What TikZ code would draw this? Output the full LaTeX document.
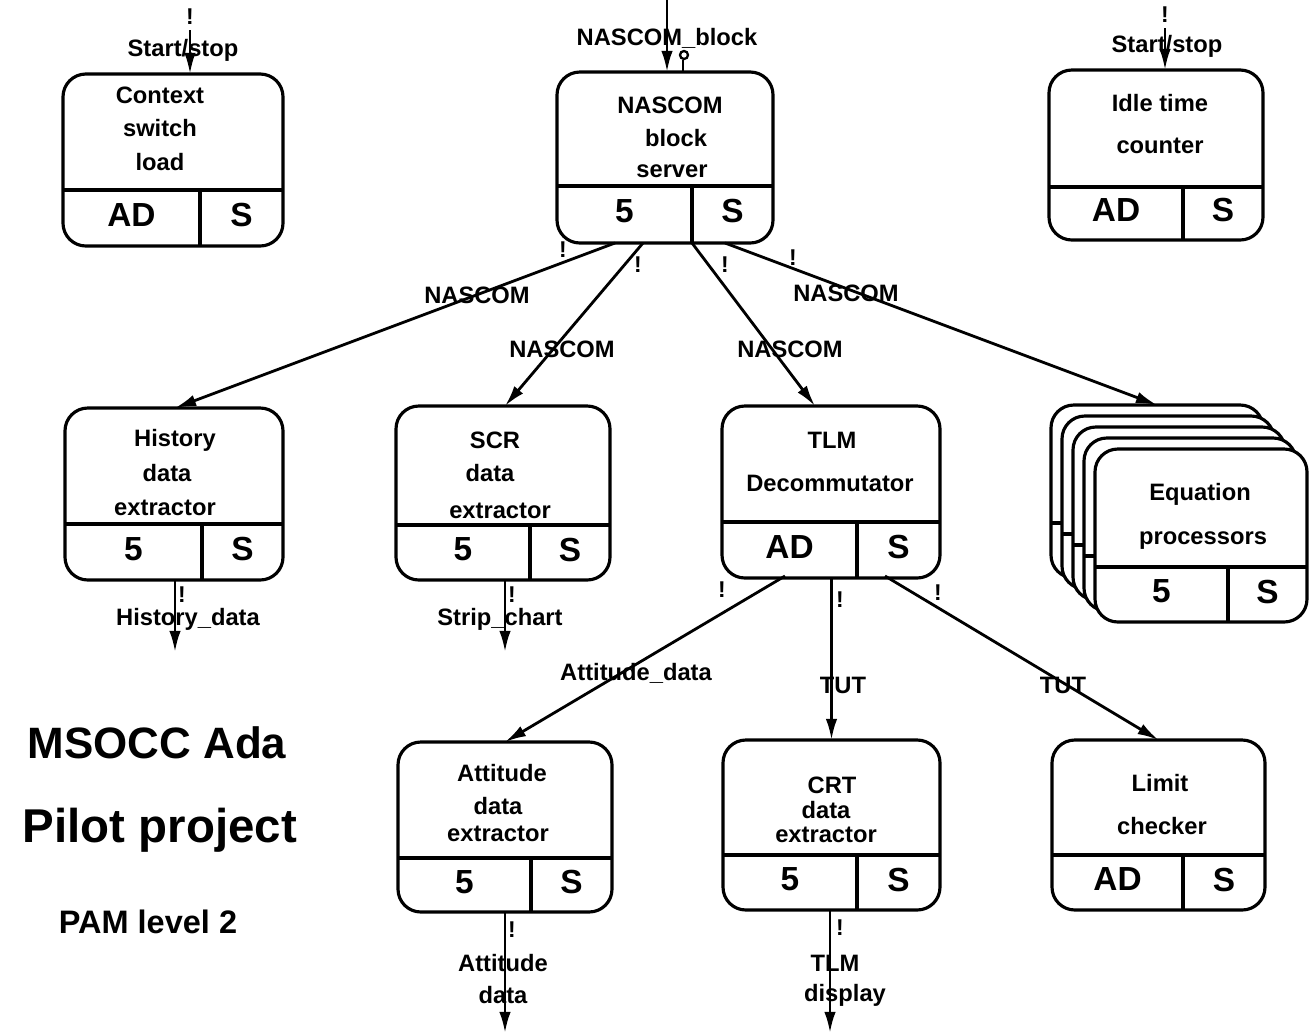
\documentclass[tikz,border=0pt]{standalone}
\usepackage{fontspec}
\setmainfont{Liberation Sans}
\usetikzlibrary{arrows.meta,fit,calc}
\newcommand\pambox[9]{%
  \node[pbox,fit={(#2,#3) (#4,#5)}] (#1) {};
  \draw[divl] (#2,#6) -- (#4,#6);
  \draw[divl] (#7,#6) -- (#7,#5);
  \node[cell] (#1-l) at ($(#2,#6)!0.5!(#7,#5)+(0,-3)$) {#8};
  \node[cell] (#1-r) at ($(#7,#6)!0.5!(#4,#5)+(0,-3)$) {#9};
}
\begin{document}
\begin{tikzpicture}[x=0.02cm,y=-0.02cm,
  pbox/.style={draw,line width=1.8pt,rounded corners=13pt,fill=white,inner sep=0pt,outer sep=0pt},
  divl/.style={line width=1.8pt},
  txt/.style={font=\bfseries\fontsize{13.5}{16}\selectfont,inner sep=0pt},
  cell/.style={font=\bfseries\fontsize{19}{20}\selectfont,inner sep=0pt},
  lbl/.style={font=\bfseries\fontsize{13.5}{15}\selectfont,inner sep=0pt},
  bang/.style={font=\bfseries\fontsize{13}{15}\selectfont,inner sep=0pt},
  arr/.style={line width=1.6pt,-{Latex[length=12pt,width=6.5pt]}},
  ttl/.style={font=\bfseries\fontsize{25}{28}\selectfont,inner sep=0pt},
]
\useasboundingbox (0,0) rectangle (1312,1035);

% ---------- boxes ----------
\pambox{ctx}{63}{74}{283}{246}{190}{200}{AD}{S}
\node[txt] (ctx1) at (160,95) {Context};
\node[txt] (ctx2) at (160,128) {switch};
\node[txt] (ctx3) at (160,162) {load};

\pambox{nbs}{557}{72}{773}{243}{186}{692}{5}{S}
\node[txt] (nbs1) at (670,105) {NASCOM};
\node[txt] (nbs2) at (676,138) {block};
\node[txt] (nbs3) at (672,171) {server};

\pambox{idle}{1049}{70}{1263}{240}{187}{1183}{AD}{S}
\node[txt] (idle1) at (1160,103) {Idle time};
\node[txt] (idle2) at (1160,146) {counter};

\pambox{hist}{65}{408}{283}{580}{524}{202}{5}{S}
\node[txt] (hist1) at (175,440) {History};
\node[txt] (hist2) at (167,473) {data};
\node[txt] (hist3) at (165,508) {extractor};

\pambox{scr}{396}{406}{610}{580}{525}{530}{5}{S}
\node[txt] (scr1) at (495,440) {SCR};
\node[txt] (scr2) at (490,473) {data};
\node[txt] (scr3) at (500,511) {extractor};

\pambox{tlm}{722}{406}{940}{578}{522}{857}{AD}{S}
\node[txt] (tlm1) at (832,440) {TLM};
\node[txt] (tlm2) at (830,483) {Decommutator};

% stacked equation processors (back to front)
\pambox{eq4}{1051}{405}{1263}{578}{523}{1184}{}{}
\pambox{eq3}{1062}{416}{1274}{589}{534}{1195}{}{}
\pambox{eq2}{1073}{427}{1285}{600}{545}{1206}{}{}
\pambox{eq1}{1084}{438}{1296}{611}{556}{1217}{}{}
\pambox{eq}{1095}{449}{1307}{622}{567}{1228}{5}{S}
\node[txt] (eq-a) at (1200,494) {Equation};
\node[txt] (eq-b) at (1203,541) {processors};

\pambox{att}{398}{742}{612}{912}{858}{531}{5}{S}
\node[txt] (att1) at (502,773) {Attitude};
\node[txt] (att2) at (498,806) {data};
\node[txt] (att3) at (498,834) {extractor};

\pambox{crt}{723}{740}{940}{910}{855}{857}{5}{S}
\node[txt] (crt1) at (832,785) {CRT};
\node[txt] (crt2) at (826,810) {data};
\node[txt] (crt3) at (826,835) {extractor};

\pambox{lim}{1052}{740}{1265}{910}{855}{1183}{AD}{S}
\node[txt] (lim1) at (1160,783) {Limit};
\node[txt] (lim2) at (1162,826) {checker};

% ---------- title ----------
\node[ttl] (t1) at (157,743) {MSOCC Ada};
\node[ttl,font=\bfseries\fontsize{27}{30}\selectfont] (t2) at (160,830) {Pilot project};
\node[font=\bfseries\fontsize{18.5}{20}\selectfont,inner sep=0pt] (t3) at (148,922) {PAM level 2};

% ---------- incoming arrows ----------
\coordinate (ctxin) at (190,30);
\draw[arr] (ctxin) -- (ctxin |- ctx.north);
\node[bang] (bctx) at (190,17) {!};
\node[lbl] (lctx) at (183,50) {Start/stop};

\coordinate (nbsin) at (667,0);
\draw[arr] (nbsin) -- (nbsin |- nbs.north);
\node[lbl] (lnbs) at (667,38) {NASCOM\_block};
\coordinate (qm) at (683,60);
\draw[line width=1.3pt] (qm) -- (qm |- nbs.north);
\draw[line width=1.3pt] ($(qm)+(1,-5)$) circle (4);

\coordinate (idlein) at (1165,28);
\draw[arr] (idlein) -- (idlein |- idle.north);
\node[bang] (bidle) at (1165,15) {!};
\node[lbl] (lidle) at (1167,46) {Start/stop};

% ---------- NASCOM fan-out ----------
\draw[arr] ($(nbs.south)+(-50,0)$) -- ($(hist.north)+(1,0)$);
\draw[arr] ($(nbs.south)+(-22,0)$) -- ($(scr.north)+(2,0)$);
\draw[arr] ($(nbs.south)+(27,0)$) -- ($(tlm.north)+(-16,0)$);
\draw[arr] ($(nbs.south)+(60,0)$) -- (eq4.north);
\node[bang] (b1) at (563,250) {!};
\node[bang] (b2) at (638,265) {!};
\node[bang] (b3) at (725,265) {!};
\node[bang] (b4) at (793,258) {!};
\node[lbl] (n1) at (477,295) {NASCOM};
\node[lbl] (n2) at (562,349) {NASCOM};
\node[lbl] (n3) at (790,349) {NASCOM};
\node[lbl] (n4) at (846,293) {NASCOM};

% ---------- outputs of extractors ----------
\coordinate (histout) at (175,652);
\draw[arr] (hist.south -| histout) -- (histout);
\node[bang] (b5) at (182,595) {!};
\node[lbl] (lhist) at (188,619) {History\_data};

\coordinate (scrout) at (505,652);
\draw[arr] (scr.south -| scrout) -- (scrout);
\node[bang] (b6) at (512,595) {!};
\node[lbl] (lscr) at (500,619) {Strip\_chart};

% ---------- TLM fan-out ----------
\draw[arr] ($(tlm.south)+(-46,-2)$) -- (att.north);
\draw[arr] (tlm.south -| crt.north) -- (crt.north);
\draw[arr] ($(tlm.south)+(54,-2)$) -- (lim.north);
\node[bang] (b7) at (722,590) {!};
\node[bang] (b8) at (840,600) {!};
\node[bang] (b9) at (938,593) {!};
\node[lbl] (lat) at (636,673) {Attitude\_data};
\node[lbl] (tut1) at (843,685) {TUT};
\node[lbl] (tut2) at (1063,685) {TUT};

\coordinate (attout) at (505,1033);
\draw[arr] (att.south -| attout) -- (attout);
\node[bang] (b10) at (512,930) {!};
\node[lbl] (la1) at (503,963) {Attitude};
\node[lbl] (la2) at (503,995) {data};

\coordinate (crtout) at (830,1033);
\draw[arr] (crt.south -| crtout) -- (crtout);
\node[bang] (b11) at (840,928) {!};
\node[lbl] (lt1) at (835,963) {TLM};
\node[lbl] (lt2) at (845,995) {display};
\end{tikzpicture}
\end{document}
